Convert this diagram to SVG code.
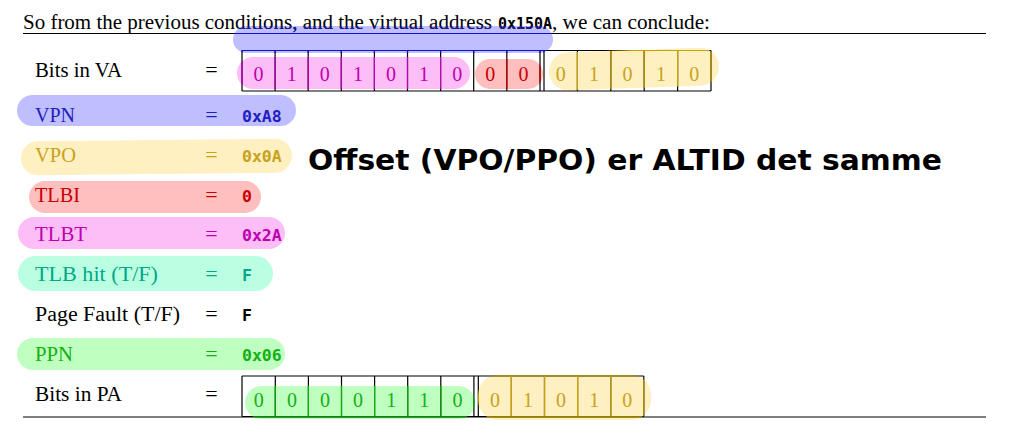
<svg xmlns="http://www.w3.org/2000/svg" xmlns:xlink="http://www.w3.org/1999/xlink" width="1034" height="434" viewBox="0 0 1034 434">
<style>
.lbl{font-family:"Liberation Serif","DejaVu Serif",serif;font-size:20px}
.eq{font-family:"Liberation Serif","DejaVu Serif",serif;font-size:22px;text-anchor:middle}
.dg{font-family:"Liberation Serif","DejaVu Serif",serif;font-size:20px;text-anchor:middle}
.val{font-family:"DejaVu Sans Mono","Liberation Mono",monospace;font-weight:bold;font-size:16.5px}
.grid{fill:none;stroke-width:1.2}
.rule{fill:none;stroke-width:1.1}
.blue{fill:#2020c0}.yel{fill:#c9a21a}.red{fill:#c80000}.pink{fill:#c000b0}.teal{fill:#00a887}.green{fill:#14b014}
.hb{fill:#bfbfff}.hy{fill:#fff0c2}.hr{fill:#ffbfbf}.hp{fill:#fdbdf6}.ht{fill:#bbffe3}.hg{fill:#bfffbf}
</style>
<defs>
<rect id="hl-va-top" x="233" y="26" width="320" height="27" rx="13.5"/>
<rect id="hl-va-pink" x="237" y="57" width="233" height="32" rx="16"/>
<rect id="hl-va-red" x="475" y="59" width="68" height="30" rx="15"/>
<rect id="hl-va-yel" x="549" y="50" width="170" height="38" rx="19" transform="rotate(-2 634 69)"/>
<rect id="hl-pa-green" x="245" y="386" width="230" height="33" rx="16.5"/>
<rect id="hl-pa-yel" x="478" y="375" width="173" height="45" rx="20"/>
<clipPath id="c-va-top"><use xlink:href="#hl-va-top"/></clipPath>
<clipPath id="c-va-pink"><use xlink:href="#hl-va-pink"/></clipPath>
<clipPath id="c-va-red"><use xlink:href="#hl-va-red"/></clipPath>
<clipPath id="c-va-yel"><use xlink:href="#hl-va-yel"/></clipPath>
<clipPath id="c-pa-green"><use xlink:href="#hl-pa-green"/></clipPath>
<clipPath id="c-pa-yel"><use xlink:href="#hl-pa-yel"/></clipPath>
<path id="va-grid" d="M242,50.5H711M242,91H711M242,50.5V91M275.1,50.5V91M308.2,50.5V91M341.3,50.5V91M374.4,50.5V91M407.5,50.5V91M440.6,50.5V91M473.7,50.5V91M506.8,50.5V91M540,50.5V91M544,50.5V91M577.4,50.5V91M610.8,50.5V91M644.2,50.5V91M677.6,50.5V91M711,50.5V91"/>
<path id="pa-grid" d="M242,376H643.8M242,416.5H643.8M242,376V416.5M275.3,376V416.5M308.4,376V416.5M341.5,376V416.5M374.6,376V416.5M407.7,376V416.5M440.8,376V416.5M473.9,376V416.5M478.3,376V416.5M511.4,376V416.5M544.5,376V416.5M577.6,376V416.5M610.7,376V416.5M643.8,376V416.5"/>
<path id="top-rule" d="M23,33.5H986"/>
<g id="title-text">
<text class="lbl" x="23" y="29.3" font-size="17.5" textLength="469" lengthAdjust="spacingAndGlyphs">So from the previous conditions, and the virtual address</text>
<text class="val" x="498" y="29.3" font-size="15" textLength="54" lengthAdjust="spacingAndGlyphs">0x150A</text>
<text class="lbl" x="552" y="29.3" font-size="17.5" textLength="158" lengthAdjust="spacingAndGlyphs">, we can conclude:</text>
</g>
</defs>

<g id="highlights-va">
<use xlink:href="#hl-va-top" class="hb"/>
<use xlink:href="#hl-va-pink" class="hp"/>
<use xlink:href="#hl-va-red" class="hr"/>
<use xlink:href="#hl-va-yel" class="hy"/>
</g>

<g id="title">
<use xlink:href="#title-text" fill="#000"/>
<use xlink:href="#title-text" fill="#1a1a8c" clip-path="url(#c-va-top)"/>
<use xlink:href="#top-rule" class="rule" stroke="#000"/>
<use xlink:href="#top-rule" class="rule" stroke="#1010d0" clip-path="url(#c-va-top)"/>
</g>

<g id="row-va">
<text class="lbl" x="35" y="76.5" textLength="87" lengthAdjust="spacingAndGlyphs">Bits in VA</text>
<text class="eq" x="211.5" y="76.5">=</text>
<use xlink:href="#va-grid" class="grid" stroke="#000"/>
<use xlink:href="#va-grid" class="grid" stroke="#1010d0" clip-path="url(#c-va-top)"/>
<use xlink:href="#va-grid" class="grid" stroke="#c000c0" clip-path="url(#c-va-pink)"/>
<use xlink:href="#va-grid" class="grid" stroke="#d00000" clip-path="url(#c-va-red)"/>
<use xlink:href="#va-grid" class="grid" stroke="#c9a200" clip-path="url(#c-va-yel)"/>
<g class="dg">
<text class="dg pink" x="258.6" y="81">0</text>
<text class="dg pink" x="291.7" y="81">1</text>
<text class="dg pink" x="324.8" y="81">0</text>
<text class="dg pink" x="357.9" y="81">1</text>
<text class="dg pink" x="391" y="81">0</text>
<text class="dg pink" x="424.1" y="81">1</text>
<text class="dg pink" x="457.2" y="81">0</text>
<text class="dg red" x="490.3" y="81">0</text>
<text class="dg red" x="523.4" y="81">0</text>
<text class="dg yel" x="560.7" y="81">0</text>
<text class="dg yel" x="594.1" y="81">1</text>
<text class="dg yel" x="627.5" y="81">0</text>
<text class="dg yel" x="660.9" y="81">1</text>
<text class="dg yel" x="694.3" y="81">0</text>
</g>
</g>

<g id="row-vpn">
<rect class="hb" x="17" y="95" width="279" height="31" rx="15.5"/>
<text class="lbl blue" x="35" y="121.5" textLength="40" lengthAdjust="spacingAndGlyphs">VPN</text>
<text class="eq blue" x="211.5" y="121.5">=</text>
<text class="val blue" x="242" y="121.5">0xA8</text>
</g>

<g id="row-vpo">
<rect class="hy" x="21" y="140" width="271" height="34" rx="17" transform="rotate(-0.6 156 157)"/>
<text class="lbl yel" x="35" y="161.5" textLength="41" lengthAdjust="spacingAndGlyphs">VPO</text>
<text class="eq yel" x="211.5" y="161.5">=</text>
<text class="val yel" x="242" y="161.5">0x0A</text>
</g>

<g id="note">
<text x="308" y="169.5" font-family="'DejaVu Sans','Liberation Sans',sans-serif" font-weight="bold" font-size="29" textLength="634" lengthAdjust="spacingAndGlyphs" fill="#000">Offset (VPO/PPO) er ALTID det samme</text>
</g>

<g id="row-tlbi">
<rect class="hr" x="29" y="181" width="232" height="32" rx="16"/>
<text class="lbl red" x="35" y="201.5" textLength="45" lengthAdjust="spacingAndGlyphs">TLBI</text>
<text class="eq red" x="211.5" y="201.5">=</text>
<text class="val red" x="242" y="201.5">0</text>
</g>

<g id="row-tlbt">
<rect class="hp" x="18" y="217" width="267" height="32" rx="16"/>
<text class="lbl pink" x="35" y="241" textLength="52" lengthAdjust="spacingAndGlyphs">TLBT</text>
<text class="eq pink" x="211.5" y="241">=</text>
<text class="val pink" x="242" y="241">0x2A</text>
</g>

<g id="row-tlbhit">
<rect class="ht" x="18" y="256" width="255" height="35" rx="17.5"/>
<text class="lbl teal" x="35" y="281" textLength="123" lengthAdjust="spacingAndGlyphs">TLB hit (T/F)</text>
<text class="eq teal" x="211.5" y="281">=</text>
<text class="val teal" x="242" y="281">F</text>
</g>

<g id="row-pagefault">
<text class="lbl" x="35" y="321" textLength="145" lengthAdjust="spacingAndGlyphs">Page Fault (T/F)</text>
<text class="eq" x="211.5" y="321">=</text>
<text class="val" x="242" y="321">F</text>
</g>

<g id="row-ppn">
<rect class="hg" x="17" y="338" width="268" height="32" rx="16"/>
<text class="lbl green" x="35" y="360.5" textLength="38" lengthAdjust="spacingAndGlyphs">PPN</text>
<text class="eq green" x="211.5" y="360.5">=</text>
<text class="val green" x="242" y="360.5">0x06</text>
</g>

<g id="row-pa">
<use xlink:href="#hl-pa-green" class="hg"/>
<use xlink:href="#hl-pa-yel" class="hy"/>
<text class="lbl" x="35" y="400.5" textLength="87" lengthAdjust="spacingAndGlyphs">Bits in PA</text>
<text class="eq" x="211.5" y="400.5">=</text>
<use xlink:href="#pa-grid" class="grid" stroke="#000"/>
<use xlink:href="#pa-grid" class="grid" stroke="#10b010" clip-path="url(#c-pa-green)"/>
<use xlink:href="#pa-grid" class="grid" stroke="#c9a200" clip-path="url(#c-pa-yel)"/>
<text class="dg green" x="258.7" y="406.5">0</text>
<text class="dg green" x="291.9" y="406.5">0</text>
<text class="dg green" x="325" y="406.5">0</text>
<text class="dg green" x="358.1" y="406.5">0</text>
<text class="dg green" x="391.2" y="406.5">1</text>
<text class="dg green" x="424.3" y="406.5">1</text>
<text class="dg green" x="457.4" y="406.5">0</text>
<text class="dg yel" x="494.9" y="406.5">0</text>
<text class="dg yel" x="528" y="406.5">1</text>
<text class="dg yel" x="561.1" y="406.5">0</text>
<text class="dg yel" x="594.2" y="406.5">1</text>
<text class="dg yel" x="627.3" y="406.5">0</text>
</g>

<g id="bottom-rule">
<path class="rule" stroke="#000" d="M23,417H986"/>
<path class="rule" stroke="#10b010" d="M23,417H986" clip-path="url(#c-pa-green)"/>
<path class="rule" stroke="#c9a200" d="M23,417H986" clip-path="url(#c-pa-yel)"/>
</g>
</svg>
